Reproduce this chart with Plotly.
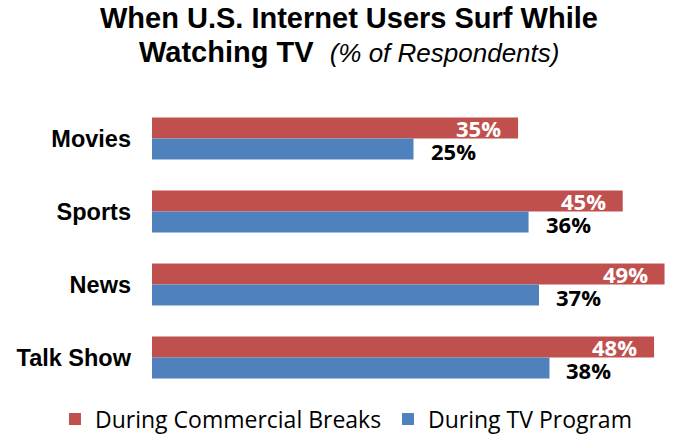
import plotly.graph_objects as go

# Survey data: share of respondents surfing the web while watching each kind of TV content
categories = ["Movies", "Sports", "News", "Talk Show"]
commercial_breaks = [35, 45, 49, 48]
tv_program = [25, 36, 37, 38]

series_names = ["During Commercial Breaks", "During TV Program"]
RED = "#C0504D"
BLUE = "#4F81BD"

LABEL_FONT = "Open Sans"
TITLE_FONT = "Liberation Sans, Arial"

fig = go.Figure()
fig.add_trace(go.Bar(
    y=categories, x=commercial_breaks, orientation="h",
    name=series_names[0], marker=dict(color=RED, line=dict(width=0)),
    hoverinfo="skip",
))
fig.add_trace(go.Bar(
    y=categories, x=tv_program, orientation="h",
    name=series_names[1], marker=dict(color=BLUE, line=dict(width=0)),
    hoverinfo="skip",
))

annotations = []
# value labels: white inside the end of the red bars, black just past the blue bars
for cat, v in zip(categories, commercial_breaks):
    annotations.append(dict(
        x=v, y=cat, xref="x", yref="y", text=f"{v}%", showarrow=False,
        xanchor="right", yanchor="middle", xshift=-15, yshift=11,
        font=dict(family=LABEL_FONT, size=22, color="white", weight="bold"),
    ))
for cat, v in zip(categories, tv_program):
    annotations.append(dict(
        x=v, y=cat, xref="x", yref="y", text=f"{v}%", showarrow=False,
        xanchor="left", yanchor="middle", xshift=15, yshift=-12,
        font=dict(family=LABEL_FONT, size=22, color="black", weight="bold"),
    ))

# two-line chart title
annotations.append(dict(
    x=0.3767, y=1.287, xref="paper", yref="paper", showarrow=False,
    xanchor="center", yanchor="middle",
    text="<b>When U.S. Internet Users Surf While</b>",
    font=dict(family=TITLE_FONT, size=29, color="black"),
))
annotations.append(dict(
    x=0.3767, y=1.171, xref="paper", yref="paper", showarrow=False,
    xanchor="center", yanchor="middle",
    text="<b>Watching TV</b>\u00a0\u00a0<i><span style='font-size:26px'>(% of Respondents)</span></i>",
    font=dict(family=TITLE_FONT, size=29, color="black"),
))

fig.update_layout(
    width=675, height=434,
    margin=dict(l=152, r=0, t=102, b=40, pad=0, autoexpand=False),
    paper_bgcolor="white", plot_bgcolor="white",
    barmode="group", bargap=0.425, bargroupgap=0,
    showlegend=True,
    legend=dict(
        orientation="h", xref="paper", yref="paper",
        x=-0.1855, xanchor="left", y=-0.0856, yanchor="middle",
        font=dict(family=LABEL_FONT, size=23, color="black"),
        traceorder="normal", itemwidth=30, entrywidth=288,
    ),
    annotations=annotations,
    xaxis=dict(range=[0, 50], visible=False, showgrid=False, zeroline=False, fixedrange=True),
    yaxis=dict(
        autorange="reversed", showgrid=False, zeroline=False, showline=False,
        ticks="", ticklabelstandoff=20,
        tickfont=dict(family=TITLE_FONT, size=23.5, color="black", weight="bold"),
        fixedrange=True,
    ),
)

fig.write_html("out.html")
